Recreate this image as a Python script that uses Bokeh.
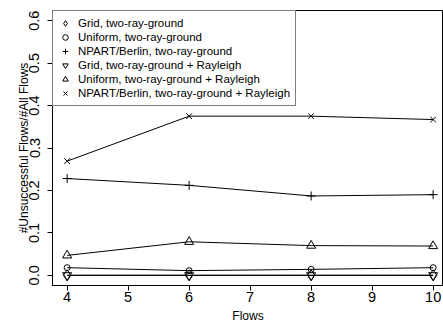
import math
from bokeh.plotting import figure
from bokeh.models import Range1d, FixedTicker, Legend, LegendItem
from bokeh.embed import file_html
from bokeh.resources import INLINE

flows = [4, 6, 8, 10]
grid_trg = [0.0, 0.0, 0.0, 0.0]
uniform_trg = [0.018, 0.011, 0.014, 0.018]
npart_trg = [0.228, 0.212, 0.187, 0.190]
grid_ray = [0.0, 0.0, 0.0, 0.0]
uniform_ray = [0.047, 0.079, 0.070, 0.069]
npart_ray = [0.269, 0.375, 0.375, 0.367]

labels = [
    "Grid, two-ray-ground",
    "Uniform, two-ray-ground",
    "NPART/Berlin, two-ray-ground",
    "Grid, two-ray-ground + Rayleigh",
    "Uniform, two-ray-ground + Rayleigh",
    "NPART/Berlin, two-ray-ground + Rayleigh",
]
series = [grid_trg, uniform_trg, npart_trg, grid_ray, uniform_ray, npart_ray]
markers = [("diamond", 11), ("circle", 6), ("cross", 9),
           ("inverted_triangle", 9), ("triangle", 9), ("x", 8)]

x_ticks = [4, 5, 6, 7, 8, 9, 10]
y_ticks = [0.0, 0.1, 0.2, 0.3, 0.4, 0.5, 0.6]

FONT = "Liberation Sans"

p = figure(width=443, height=325, output_backend="svg", toolbar_location=None,
           x_range=Range1d(3.76, 10.17), y_range=Range1d(-0.024, 0.624))
p.min_border_left = 52
p.min_border_right = 0
p.min_border_top = 10
p.min_border_bottom = 37
p.background_fill_color = "white"
p.border_fill_color = "white"
p.outline_line_color = "black"
p.outline_line_width = 1
p.grid.visible = False

for ax in (p.xaxis[0], p.yaxis[0]):
    ax.axis_line_color = "black"
    ax.major_tick_line_color = "black"
    ax.major_tick_in = 0
    ax.major_tick_out = 5
    ax.minor_tick_line_color = None
    ax.major_label_text_font = FONT
    ax.major_label_text_font_size = "14.5px"
    ax.major_label_text_color = "black"
    ax.axis_label_text_font = FONT
    ax.axis_label_text_font_size = "12px"
    ax.axis_label_text_font_style = "normal"
    ax.axis_label_text_color = "black"

p.xaxis.ticker = FixedTicker(ticks=x_ticks)
p.yaxis.ticker = FixedTicker(ticks=y_ticks)
p.yaxis.major_label_overrides = {t: f"{t:.1f}" for t in y_ticks}
p.xaxis.major_label_overrides = {t: str(t) for t in x_ticks}
p.yaxis.major_label_orientation = "vertical"
p.xaxis.axis_label = "Flows"
p.yaxis.axis_label = "#Unsuccessful Flows/#All Flows"
p.xaxis.major_label_standoff = 1
p.xaxis.axis_label_standoff = 4
p.yaxis.major_label_standoff = 8
p.yaxis.axis_label_standoff = -4

items = []
for lab, ys, (mk, sz) in zip(labels, series, markers):
    p.line(flows, ys, line_color="black", line_width=1)
    r = p.scatter(flows, ys, marker=mk, size=sz, fill_color=None,
                  line_color="black", line_width=1)
    items.append(LegendItem(label=lab, renderers=[r]))

legend = Legend(items=items, location="top_left")
legend.margin = 0
legend.padding = 5
legend.spacing = 0
legend.label_height = 14
legend.glyph_height = 14
legend.glyph_width = 14
legend.label_standoff = 6
legend.label_text_font = FONT
legend.label_text_font_size = "11.5px"
legend.label_text_color = "black"
legend.border_line_color = "black"
legend.border_line_width = 1
legend.background_fill_color = "white"
legend.background_fill_alpha = 1
p.add_layout(legend)

open("out.html", "w").write(file_html(p, INLINE))
